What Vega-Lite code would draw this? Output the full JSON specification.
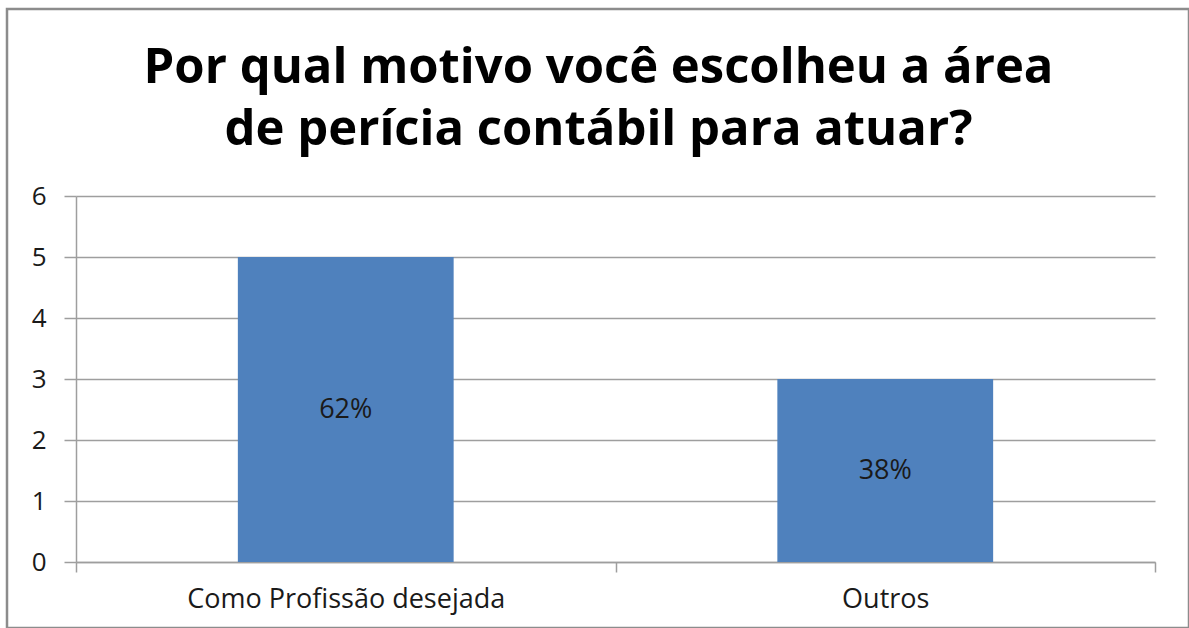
{
  "$schema": "https://vega.github.io/schema/vega-lite/v6.json",
  "width": 1182,
  "height": 619,
  "padding": {"left": 7, "top": 9, "right": 0, "bottom": 0},
  "autosize": {"type": "none"},
  "background": "white",
  "title": {
    "text": "Gráfico 11 – Motivo da escolha da profissão",
    "anchor": "start",
    "frame": "group",
    "orient": "top",
    "offset": 5,
    "baseline": "alphabetic",
    "dx": -8,
    "font": "Liberation Sans",
    "fontSize": 26,
    "fontWeight": "bold",
    "color": "#000000"
  },
  "data": {
    "values": [
      {"motivo": "Como Profissão desejada", "quantidade": 5, "percentual": "62%"},
      {"motivo": "Outros", "quantidade": 3, "percentual": "38%"}
    ]
  },
  "encoding": {
    "x": {
      "field": "motivo",
      "type": "nominal",
      "sort": null,
      "scale": {"type": "band", "range": [69, 1148], "paddingInner": 0, "paddingOuter": 0},
      "axis": {
        "title": ["Por qual motivo você escolheu a área", "de perícia contábil para atuar?"],
        "titleFont": "Open Sans",
        "titleFontSize": 49,
        "titleFontWeight": "bold",
        "titleColor": "#000000",
        "titleX": 591,
        "titleY": -480,
        "titleAlign": "center",
        "titleBaseline": "alphabetic",
        "titleLineHeight": 62,
        "titleAngle": 0,
        "offset": -66,
        "tickBand": "extent",
        "grid": false,
        "labelAngle": 0,
        "labelFont": "Open Sans",
        "labelFontSize": 27,
        "labelColor": "#1a1a1a",
        "labelPadding": 14,
        "labelLimit": 0,
        "tickSize": 10,
        "tickColor": "#9e9e9e",
        "tickWidth": 1.5,
        "domainColor": "#9e9e9e",
        "domainWidth": 1.5
      }
    }
  },
  "layer": [
    {
      "mark": {"type": "bar", "color": "#4F81BD", "width": {"band": 0.4}},
      "encoding": {
        "y": {
          "field": "quantidade",
          "type": "quantitative",
          "scale": {"domain": [0, 6], "range": [553, 187], "nice": false},
          "axis": {
            "title": null,
            "values": [0, 1, 2, 3, 4, 5, 6],
            "format": "d",
            "offset": -69,
            "grid": true,
            "gridColor": "#9e9e9e",
            "gridWidth": 1.5,
            "domainColor": "#9e9e9e",
            "domainWidth": 1.5,
            "tickColor": "#9e9e9e",
            "tickWidth": 1.5,
            "tickSize": 12,
            "labelFont": "Open Sans",
            "labelFontSize": 26,
            "labelColor": "#1a1a1a",
            "labelPadding": 18
          }
        }
      }
    },
    {
      "transform": [{"calculate": "datum.quantidade / 2", "as": "meio"}],
      "mark": {"type": "text", "font": "Open Sans", "fontSize": 27, "color": "#1a1a1a"},
      "encoding": {
        "y": {"field": "meio", "type": "quantitative", "axis": {"title": null, "format": "d"}},
        "text": {"field": "percentual"}
      }
    }
  ],
  "config": {"view": {"stroke": "#8c8c8c", "strokeWidth": 2.5}}
}
